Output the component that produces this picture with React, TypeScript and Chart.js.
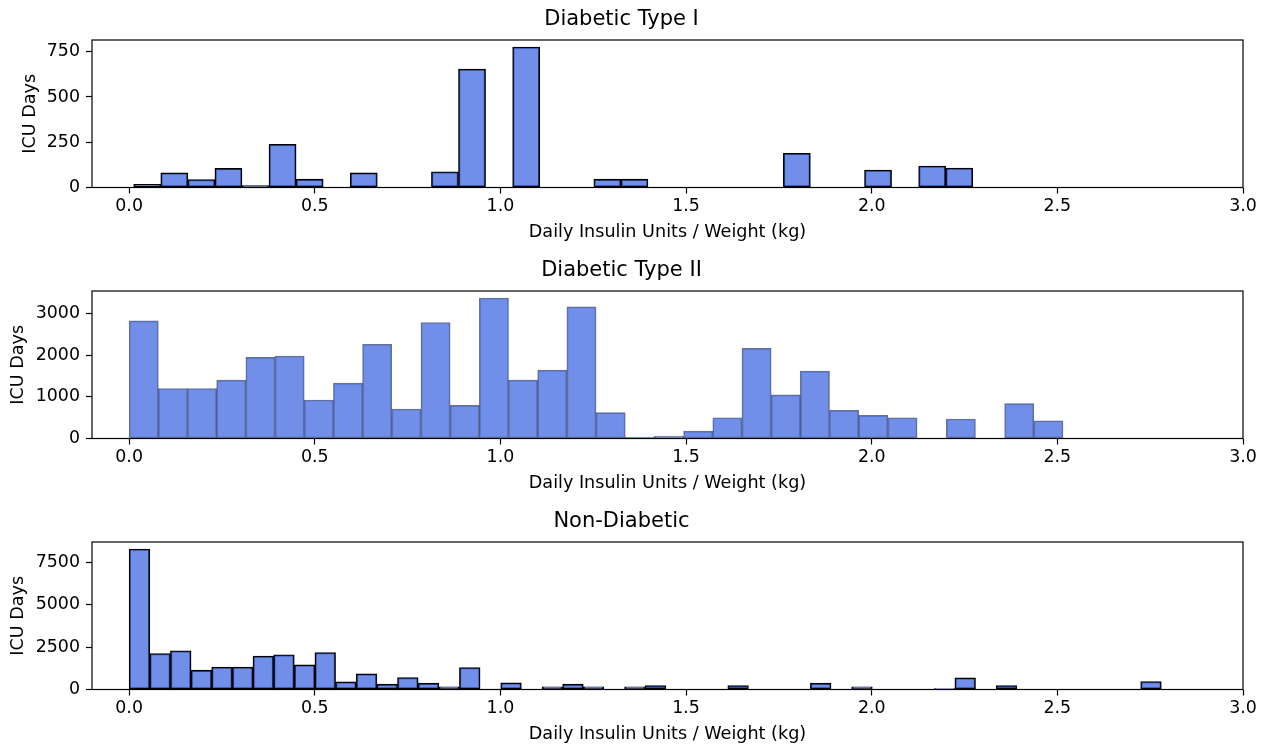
import React, { useEffect, useRef } from "react";
import { Chart, registerables } from "chart.js";
Chart.register(...registerables);

// ---- shared axis data ----
const X_TICKS = [0, 0.5, 1.0, 1.5, 2.0, 2.5, 3.0];
const X_MIN = -0.1;
const X_MAX = 3.0;
const X_LABEL = "Daily Insulin Units / Weight (kg)";
const Y_LABEL = "ICU Days";

// ---- Diabetic Type I ----
const T1_TITLE = "Diabetic Type I";
const T1_BIN_START = 0.0123;
const T1_BIN_WIDTH = 0.0729;
const T1_COUNTS = [
  17, 81, 44, 106, 11, 239, 46, 0, 81, 0, 0, 87, 654, 0, 776, 0, 0, 46, 46, 0,
  0, 0, 0, 0, 189, 0, 0, 96, 0, 119, 107,
];
const T1_Y_TICKS = [0, 250, 500, 750];

// ---- Diabetic Type II ----
const T2_TITLE = "Diabetic Type II";
const T2_BIN_START = 0.0;
const T2_BIN_WIDTH = 0.0786;
const T2_COUNTS = [
  2831, 1202, 1202, 1403, 1952, 1984, 927, 1331, 2266, 710, 2790, 798, 3379,
  1403, 1645, 3169, 621, 32, 60, 177, 500, 2169, 1048, 1621, 677, 556, 500, 0,
  468, 0, 839, 427,
];
const T2_Y_TICKS = [0, 1000, 2000, 3000];

// ---- Non-Diabetic ----
const T3_TITLE = "Non-Diabetic";
const T3_BIN_START = 0.0;
const T3_BIN_WIDTH = 0.0556;
const T3_COUNTS = [
  8268, 2121, 2278, 1139, 1316, 1316, 1964, 2043, 1453, 2180, 452, 923, 314,
  707, 373, 157, 1296, 0, 393, 0, 157, 314, 157, 0, 157, 236, 0, 0, 0, 236, 0,
  0, 0, 373, 0, 157, 0, 0, 0, 59, 687, 0, 236, 0, 0, 0, 0, 0, 0, 471,
];
const T3_Y_TICKS = [0, 2500, 5000, 7500];

const FONT = "'DejaVu Sans', Verdana, sans-serif";
const FILL = "rgba(65,105,225,0.75)";

const boxPlugin = {
  id: "axesBox",
  afterDatasetsDraw(chart: any) {
    const { ctx, chartArea: a } = chart;
    ctx.save();
    ctx.strokeStyle = "#000";
    ctx.lineWidth = 1.2;
    ctx.strokeRect(a.left, a.top, a.right - a.left, a.bottom - a.top);
    ctx.restore();
  },
};

type PanelProps = {
  title: string;
  start: number;
  width: number;
  counts: number[];
  yTicks: number[];
  edge: string;
  edgeWidth: number;
  yTitlePad: number;
  top: number;
};

function Panel(p: PanelProps) {
  const ref = useRef<HTMLCanvasElement | null>(null);
  useEffect(() => {
    if (!ref.current) return;
    const centers = p.counts.map((_, i) => p.start + p.width * (i + 0.5));
    const data = centers.map((c, i) => ({ x: c, y: p.counts[i] === 0 ? null : p.counts[i] }));
    const yMax = Math.max(...p.counts) * 1.05;
    const chart = new Chart(ref.current, {
      type: "bar",
      data: {
        datasets: [
          {
            data: data as any,
            backgroundColor: FILL,
            borderColor: p.edge,
            borderWidth: p.edgeWidth,
            borderSkipped: false,
            barPercentage: 1,
            categoryPercentage: 1,
          },
        ],
      },
      options: {
        animation: false,
        responsive: false,
        events: [],
        layout: { padding: { left: 0, right: 22, top: 0, bottom: 0 } },
        plugins: {
          legend: { display: false },
          tooltip: { enabled: false },
          title: {
            display: true,
            text: p.title,
            color: "#000",
            font: { family: FONT, size: 21, weight: "normal" },
            padding: { top: 7.4, bottom: 7.4 },
          },
        },
        scales: {
          x: {
            type: "linear",
            min: X_MIN,
            max: X_MAX,
            offset: false,
            afterBuildTicks: (s: any) => {
              s.ticks = X_TICKS.map((v) => ({ value: v }));
            },
            afterFit: (s: any) => {
              s.height = 55.5;
            },
            ticks: {
              color: "#000",
              font: { family: FONT, size: 17.4 },
              padding: 3,
              maxRotation: 0,
              autoSkip: false,
              callback: (v: any) => Number(v).toFixed(1),
            },
            grid: {
              display: true,
              offset: false,
              drawOnChartArea: false,
              drawTicks: true,
              tickLength: 6,
              tickColor: "#000",
              tickWidth: 1.2,
            },
            border: { display: false },
            title: {
              display: true,
              text: X_LABEL,
              color: "#000",
              font: { family: FONT, size: 17.6 },
              padding: { top: 0, bottom: 0 },
            },
          },
          y: {
            type: "linear",
            min: 0,
            max: yMax,
            afterBuildTicks: (s: any) => {
              s.ticks = p.yTicks.map((v) => ({ value: v }));
            },
            afterFit: (s: any) => {
              s.width = 92;
            },
            ticks: {
              color: "#000",
              font: { family: FONT, size: 17.4 },
              padding: 6,
              autoSkip: false,
              callback: (v: any) => String(v),
            },
            grid: {
              display: true,
              offset: false,
              drawOnChartArea: false,
              drawTicks: true,
              tickLength: 6,
              tickColor: "#000",
              tickWidth: 1.2,
            },
            border: { display: false },
            title: {
              display: true,
              text: Y_LABEL,
              color: "#000",
              font: { family: FONT, size: 17.6 },
              padding: { top: p.yTitlePad, bottom: 0 },
            },
          },
        },
      },
      plugins: [boxPlugin],
    });
    return () => chart.destroy();
  }, []);
  return (
    <canvas
      ref={ref}
      width={1265}
      height={243}
      style={{ position: "absolute", left: 0, top: p.top, width: 1265, height: 243 }}
    />
  );
}

export default function App() {
  return (
    <div
      style={{
        position: "absolute",
        left: 0,
        top: 0,
        width: 1265,
        height: 745,
        background: "#fff",
        overflow: "hidden",
      }}
    >
      <Panel title={T1_TITLE} start={T1_BIN_START} width={T1_BIN_WIDTH} counts={T1_COUNTS}
        yTicks={T1_Y_TICKS} edge="#000" edgeWidth={1.4} yTitlePad={19.5} top={0} />
      <Panel title={T2_TITLE} start={T2_BIN_START} width={T2_BIN_WIDTH} counts={T2_COUNTS}
        yTicks={T2_Y_TICKS} edge="rgba(30,40,80,0.65)" edgeWidth={1} yTitlePad={7.8} top={251} />
      <Panel title={T3_TITLE} start={T3_BIN_START} width={T3_BIN_WIDTH} counts={T3_COUNTS}
        yTicks={T3_Y_TICKS} edge="#000" edgeWidth={1.4} yTitlePad={7.8} top={502} />
    </div>
  );
}
